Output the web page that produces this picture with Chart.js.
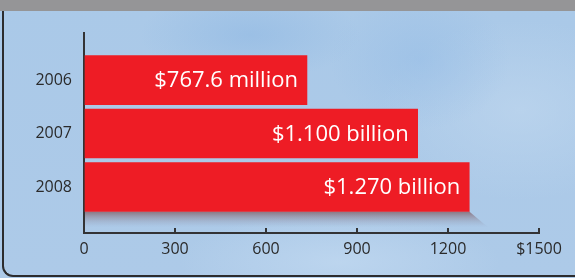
<!DOCTYPE html>
<html>
<head>
<meta charset="utf-8">
<script src="https://cdn.jsdelivr.net/npm/chart.js@4.4.1/dist/chart.umd.min.js"></script>
<style>
  html, body { margin: 0; padding: 0; }
  body {
    width: 575px; height: 278px; overflow: hidden; position: relative;
    background:
      radial-gradient(ellipse 110px 45px at 250px 35px, rgba(140,182,226,0.5), transparent),
      radial-gradient(ellipse 90px 70px at 420px 60px, rgba(148,188,230,0.5), transparent),
      radial-gradient(ellipse 140px 90px at 520px 110px, rgba(190,214,238,0.7), transparent),
      radial-gradient(ellipse 160px 50px at 340px 262px, rgba(192,216,240,0.8), transparent),
      linear-gradient(#aac9e8, #adcae8);
  }
  #topband { position: absolute; left: 0; top: 0; width: 575px; height: 11px; background: #959597; }
  #frame {
    position: absolute; left: 2px; top: 11px; width: 620px; height: 264px;
    border-left: 2px solid #2c2c2e; border-bottom: 2px solid #2c2c2e;
    border-bottom-left-radius: 11px;
  }
  #wrap { position: absolute; left: 0; top: 0; width: 575px; height: 278px; }
</style>
</head>
<body>
<div id="topband"></div>
<div id="frame"></div>
<div id="wrap"><canvas id="grafico" width="575" height="278"></canvas></div>
<script>
const anos = ['2006', '2007', '2008'];
const receita = [735, 1100, 1270];
const rotulos = ['$767.6 million', '$1.100 billion', '$1.270 billion'];
const marcasX = [0, 300, 600, 900, 1200, 1500];
const textosX = ['0', '300', '600', '900', '1200', '$1500'];

const corEixo = '#333335';
const fonteEixo = { family: '"Open Sans", sans-serif', size: 16 };

// sombra "3D" debaixo da ultima barra
const sombraBarra = {
  id: 'sombraBarra',
  beforeDatasetsDraw(chart) {
    const meta = chart.getDatasetMeta(0);
    const barra = meta.data[meta.data.length - 1];
    const ctx = chart.ctx;
    const esquerda = chart.chartArea.left + 1;
    const base = barra.y + barra.height / 2;
    const fundo = 16;
    const grad = ctx.createLinearGradient(0, base, 0, base + fundo);
    grad.addColorStop(0, 'rgba(125,80,85,0.7)');
    grad.addColorStop(1, 'rgba(150,165,190,0)');
    ctx.save();
    ctx.beginPath();
    ctx.moveTo(esquerda, base);
    ctx.lineTo(barra.x, base);
    ctx.lineTo(barra.x + 19, base + fundo);
    ctx.lineTo(esquerda, base + fundo);
    ctx.closePath();
    ctx.fillStyle = grad;
    ctx.fill();
    ctx.restore();
  }
};

const textoBarra = {
  id: 'textoBarra',
  afterDatasetsDraw(chart) {
    const ctx = chart.ctx;
    const meta = chart.getDatasetMeta(0);
    ctx.save();
    ctx.font = '22px "Open Sans", sans-serif';
    ctx.fillStyle = '#ffffff';
    ctx.textAlign = 'right';
    ctx.textBaseline = 'middle';
    meta.data.forEach((barra, i) => {
      ctx.fillText(rotulos[i], barra.x - 9, barra.y + 1);
    });
    ctx.restore();
  }
};

const grafico = new Chart(document.getElementById('grafico'), {
  type: 'bar',
  data: {
    datasets: [{
      data: anos.map((ano, i) => ({ x: receita[i], y: i })),
      backgroundColor: '#ee1c25',
      borderWidth: 0,
      barThickness: 49
    }]
  },
  options: {
    indexAxis: 'y',
    responsive: false,
    animation: false,
    devicePixelRatio: 1,
    layout: { padding: { left: 0, right: 36, top: 33, bottom: 15 } },
    plugins: { legend: { display: false }, tooltip: { enabled: false } },
    scales: {
      x: {
        type: 'linear',
        min: 0,
        max: 1500,
        afterBuildTicks: scale => { scale.ticks = marcasX.map(v => ({ value: v })); },
        afterFit: scale => { scale.height = 30; },
        grid: { drawOnChartArea: false, tickLength: -5, color: corEixo, lineWidth: 2 },
        border: { display: true, color: corEixo, width: 2 },
        ticks: {
          padding: 12,
          color: '#2a2a2a',
          font: fonteEixo,
          maxRotation: 0,
          autoSkip: false,
          callback: (v, i) => textosX[i]
        }
      },
      y: {
        type: 'linear',
        reverse: true,
        offset: false,
        min: -0.88,
        max: 2.86,
        afterBuildTicks: scale => { scale.ticks = anos.map((a, i) => ({ value: i })); },
        afterFit: scale => { scale.width = 84; },
        grid: { display: false, drawTicks: false, tickLength: 0 },
        border: { display: true, color: corEixo, width: 2 },
        ticks: {
          padding: 12,
          color: '#2a2a2a',
          font: fonteEixo,
          autoSkip: false,
          callback: (v, i) => anos[i]
        }
      }
    }
  },
  plugins: [sombraBarra, textoBarra]
});
</script>
</body>
</html>
